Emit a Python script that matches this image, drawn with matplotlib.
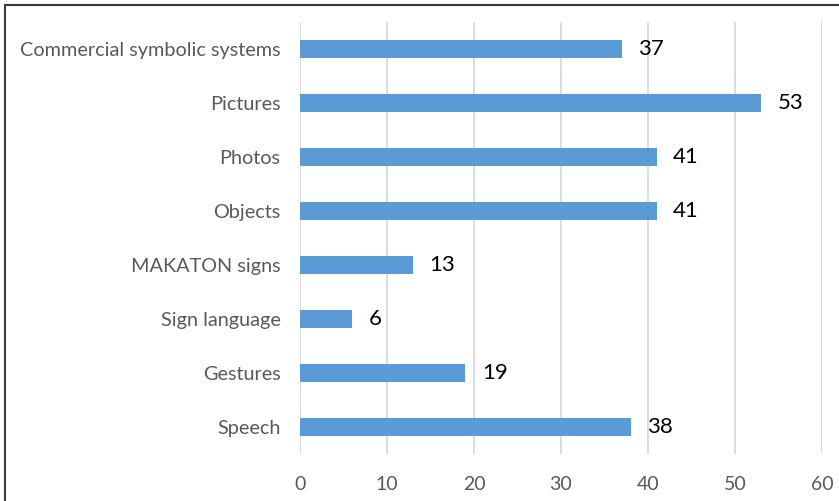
import matplotlib.pyplot as plt
from matplotlib.patches import Rectangle

categories = ["Speech", "Gestures", "Sign language", "MAKATON signs",
              "Objects", "Photos", "Pictures", "Commercial symbolic systems"]
values = [38, 19, 6, 13, 41, 41, 53, 37]
xticks = [0, 10, 20, 30, 40, 50, 60]

plt.rcParams['font.family'] = ['Lato', 'DejaVu Sans']

fig = plt.figure(figsize=(8.39, 5.01), dpi=100)
ax = fig.add_axes([300 / 839, 1 - 454 / 501, 522 / 839, 432 / 501])

pos = range(len(categories))
ax.barh(pos, values, height=0.35, color='#5B9BD5', zorder=3)
for y, v in zip(pos, values):
    ax.text(v + 1.9, y, str(v), va='center', ha='left', fontsize=16, color='black')

ax.set_xlim(0, 60)
ax.set_ylim(-0.5, len(categories) - 0.5)
ax.set_xticks(xticks)
ax.set_yticks(list(pos))
ax.set_yticklabels(categories, fontsize=14.3)
ax.tick_params(axis='both', length=0, colors='#595959')
ax.tick_params(axis='x', labelsize=14, pad=16)
ax.tick_params(axis='y', pad=14)
ax.grid(axis='x', color='#D9D9D9', linewidth=1.3, zorder=0)
for s in ax.spines.values():
    s.set_visible(False)

# outer frame, right and bottom edges run off the canvas
fig.patches.append(Rectangle((5 / 839, -0.1), 1.2, 1 - 5 / 501 + 0.1,
                             transform=fig.transFigure, fill=False,
                             edgecolor='#3A3A3A', linewidth=1.5))

fig.savefig('out.png', dpi=100)
